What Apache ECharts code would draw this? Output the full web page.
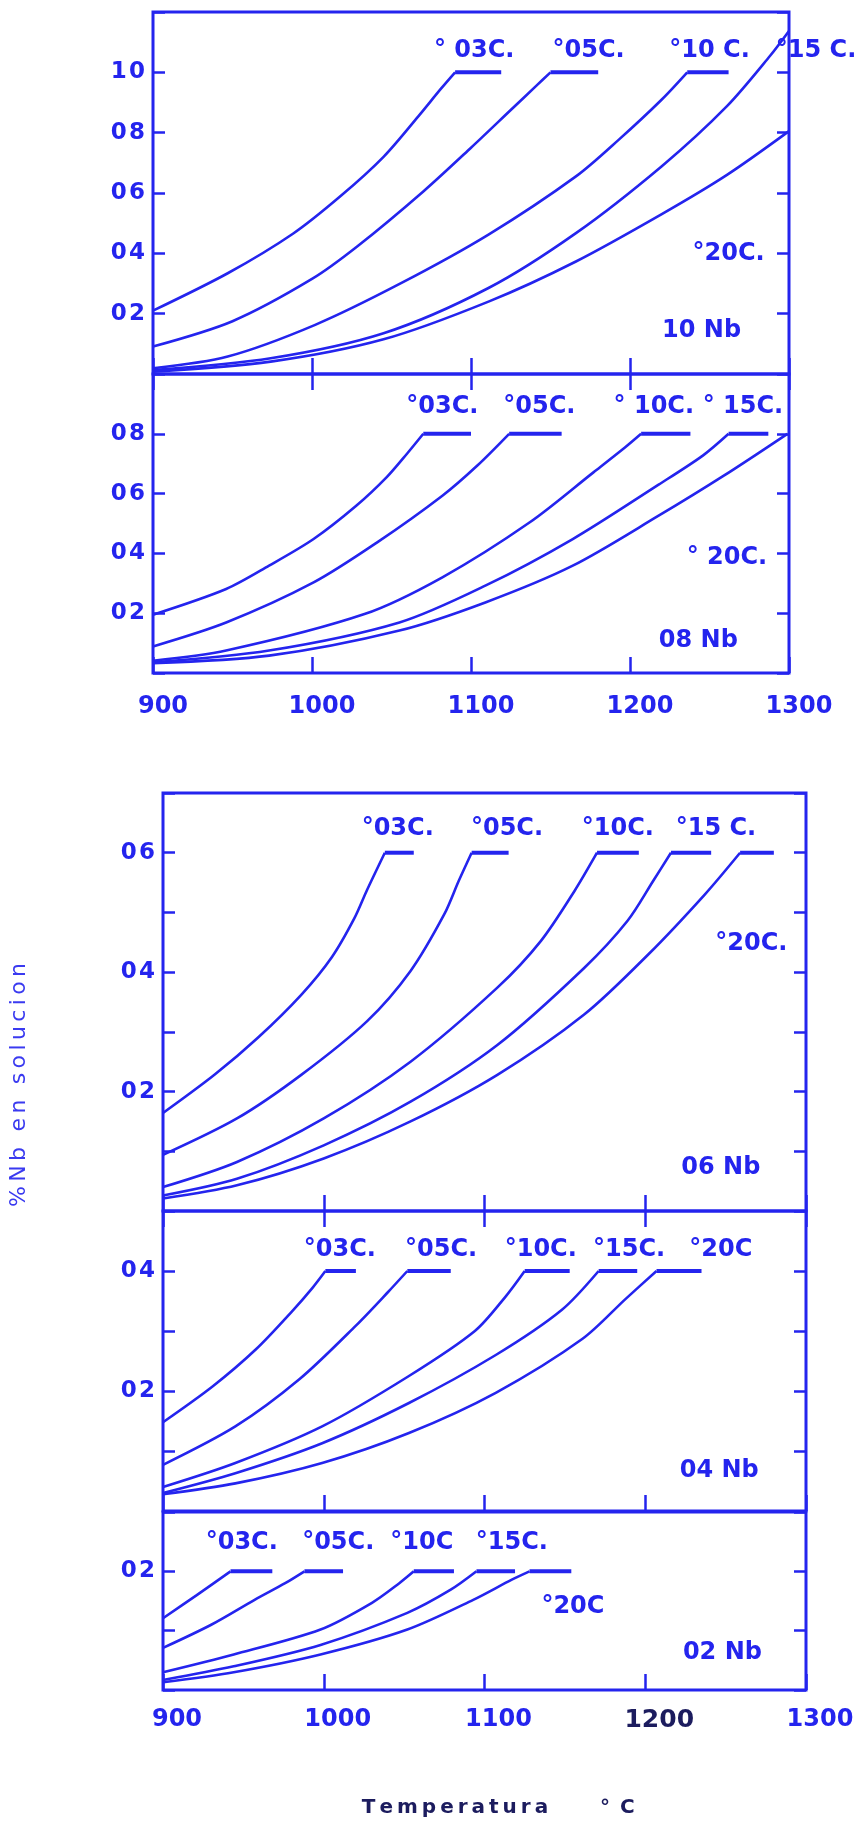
<!DOCTYPE html>
<html>
<head>
<meta charset="utf-8">
<script src="https://cdn.jsdelivr.net/npm/echarts@6/dist/echarts.min.js"></script>
<style>
html, body { margin: 0; padding: 0; background: #fff; }
#chart { width: 860px; height: 1824px; }
</style>
</head>
<body>
<div id="chart"></div>
<script>
// one curve per carbon content, one panel per Nb content
var carbonNames = ['03C', '05C', '10C', '15C', '20C'];
var nbNames = ['10 Nb', '08 Nb', '06 Nb', '04 Nb', '02 Nb'];
var nbLevels = [0.10, 0.08, 0.06, 0.04, 0.02];
var yMax = [0.12, 0.10, 0.07, 0.05, 0.03];
var yStep = [0.02, 0.02, 0.01, 0.01, 0.01];
var yShown = [[2, 4, 6, 8, 10], [2, 4, 6, 8], [2, 4, 6], [2, 4], [2]];
var tempTicks = [900, 1000, 1100, 1200, 1300];

// [temperatura C, % Nb en solucion]
var nb10 = [
  [[900, 0.021], [947, 0.0334], [988, 0.0465], [1018, 0.059], [1045, 0.0720], [1067, 0.0855], [1081, 0.0945], [1090, 0.100]],
  [[900, 0.0091], [950, 0.0175], [1000, 0.0315], [1029, 0.0425], [1070, 0.0605], [1100, 0.075], [1125, 0.0875], [1141, 0.0955], [1150, 0.100]],
  [[900, 0.0019], [947, 0.0058], [1002, 0.0163], [1056, 0.0301], [1111, 0.0462], [1166, 0.0655], [1193, 0.0777], [1220, 0.091], [1236, 0.100]],
  [[900, 0.0013], [974, 0.0052], [1045, 0.0135], [1111, 0.0285], [1166, 0.0467], [1220, 0.0689], [1261, 0.0888], [1288, 0.1054], [1300, 0.1137]],
  [[900, 0.0008], [974, 0.0041], [1045, 0.0115], [1111, 0.024], [1166, 0.0373], [1220, 0.053], [1261, 0.066], [1300, 0.0805]]
];
var nb10Flat = [[1090, 1119], [1150, 1180], [1236, 1262], null, null];

var nb08 = [
  [[900, 0.0195], [946, 0.0281], [973, 0.0359], [1001, 0.0448], [1028, 0.056], [1047, 0.0655], [1060, 0.0735], [1070, 0.080]],
  [[900, 0.0089], [946, 0.0169], [1001, 0.0303], [1041, 0.0437], [1082, 0.0593], [1104, 0.0694], [1124, 0.080]],
  [[900, 0.0041], [946, 0.0075], [1033, 0.0197], [1082, 0.032], [1137, 0.0504], [1177, 0.0671], [1197, 0.0755], [1207, 0.080]],
  [[900, 0.0036], [973, 0.0075], [1055, 0.0169], [1109, 0.0292], [1164, 0.0448], [1218, 0.063], [1246, 0.0728], [1262, 0.080]],
  [[900, 0.0033], [973, 0.0058], [1055, 0.0142], [1109, 0.0236], [1164, 0.0359], [1218, 0.0526], [1259, 0.066], [1299, 0.080]]
];
var nb08Flat = [[1070, 1100], [1124, 1157], [1207, 1238], [1262, 1287], null];

var nb06 = [
  [[900, 0.0164], [932, 0.0228], [959, 0.029], [986, 0.0362], [1005, 0.0425], [1019, 0.049], [1027, 0.0538], [1038, 0.060]],
  [[900, 0.0094], [946, 0.0155], [986, 0.0228], [1027, 0.0318], [1054, 0.0402], [1075, 0.0497], [1084, 0.0553], [1092, 0.060]],
  [[900, 0.004], [946, 0.0082], [1000, 0.0155], [1054, 0.025], [1108, 0.0374], [1135, 0.0452], [1156, 0.0536], [1170, 0.060]],
  [[900, 0.0026], [946, 0.0054], [1000, 0.011], [1054, 0.0183], [1108, 0.0278], [1162, 0.0407], [1189, 0.0486], [1205, 0.0553], [1216, 0.060]],
  [[900, 0.0021], [946, 0.0043], [1000, 0.0088], [1054, 0.015], [1108, 0.0228], [1162, 0.0329], [1202, 0.043], [1237, 0.053], [1259, 0.060]]
];
var nb06Flat = [[1038, 1056], [1092, 1115], [1170, 1196], [1216, 1241], [1259, 1280]];

var nb04 = [
  [[900, 0.0148], [931, 0.0208], [958, 0.027], [980, 0.0332], [993, 0.0372], [1001, 0.040]],
  [[900, 0.0077], [945, 0.0141], [985, 0.022], [1020, 0.0309], [1040, 0.0365], [1052, 0.040]],
  [[900, 0.004], [945, 0.008], [999, 0.0141], [1053, 0.0225], [1094, 0.030], [1113, 0.0357], [1125, 0.040]],
  [[900, 0.003], [945, 0.0063], [999, 0.0113], [1053, 0.018], [1107, 0.026], [1148, 0.0335], [1171, 0.040]],
  [[900, 0.0028], [945, 0.0046], [999, 0.008], [1053, 0.013], [1107, 0.0197], [1161, 0.0287], [1188, 0.0354], [1207, 0.040]]
];
var nb04Flat = [[1001, 1020], [1052, 1079], [1125, 1153], [1171, 1195], [1207, 1235]];

var nb02 = [
  [[900, 0.0121], [921, 0.0160], [942, 0.020]],
  [[900, 0.0071], [930, 0.011], [957, 0.0152], [976, 0.018], [988, 0.020]],
  [[900, 0.003], [944, 0.006], [998, 0.0102], [1030, 0.0147], [1047, 0.018], [1056, 0.020]],
  [[900, 0.0017], [944, 0.004], [998, 0.0076], [1052, 0.013], [1079, 0.0169], [1095, 0.020]],
  [[900, 0.0013], [944, 0.003], [998, 0.006], [1052, 0.0102], [1093, 0.0152], [1117, 0.0186], [1128, 0.020]]
];
var nb02Flat = [[942, 968], [988, 1012], [1056, 1081], [1095, 1119], [1128, 1154]];

// curve captions as printed, and where they sit (data coords)
var captions10 = ['° 03C.', '°05C.', '°10 C.', '°15 C.', '°20C.'];
var captions08 = ['°03C.', '°05C.', '° 10C.', '° 15C.', '° 20C.'];
var captions06 = ['°03C.', '°05C.', '°10C.', '°15 C.', '°20C.'];
var captions04 = ['°03C.', '°05C.', '°10C.', '°15C.', '°20C'];
var captions02 = ['°03C.', '°05C.', '°10C', '°15C.', '°20C'];
var spots10 = [[1102, 0.107], [1174, 0.107], [1250, 0.107], [1317, 0.107], [1262, 0.0398], [1245, 0.0144]];
var spots08 = [[1082, 0.0889], [1143, 0.0889], [1215, 0.0889], [1271, 0.0889], [1261, 0.0387], [1243, 0.0108]];
var spots06 = [[1046, 0.064], [1114, 0.064], [1183, 0.064], [1244, 0.064], [1266, 0.0447], [1247, 0.0073]];
var spots04 = [[1010, 0.0435], [1073, 0.0435], [1135, 0.0435], [1190, 0.0435], [1247, 0.0435], [1246, 0.0067]];
var spots02 = [[949, 0.0248], [1009, 0.0248], [1061, 0.0248], [1117, 0.0248], [1155, 0.0141], [1248, 0.0062]];

var BLUE = '#2424ee';
var NAVY = '#1c1c5e';
var FONT = 'DejaVu Sans';

var curves = [nb10, nb08, nb06, nb04, nb02];
var flats = [nb10Flat, nb08Flat, nb06Flat, nb04Flat, nb02Flat];
var captions = [captions10, captions08, captions06, captions04, captions02];
var spots = [spots10, spots08, spots06, spots04, spots02];

var grids = [
  { left: 153, top: 12, width: 636, height: 362 },
  { left: 153, top: 374, width: 636, height: 299 },
  { left: 163, top: 793, width: 643, height: 418 },
  { left: 163, top: 1211, width: 643, height: 300 },
  { left: 163, top: 1512, width: 643, height: 178 }
];
grids.forEach(function (g) {
  g.show = true;
  g.borderColor = BLUE;
  g.borderWidth = 3;
  g.backgroundColor = 'transparent';
  g.outerBoundsMode = 'none';
});

var xAxes = [];
var yAxes = [];
var series = [];

grids.forEach(function (g, i) {
  var bottomLabels = (i === 1 || i === 4);
  var xi = xAxes.length;
  xAxes.push({
    gridIndex: i, type: 'value', position: 'bottom',
    min: tempTicks[0], max: tempTicks[tempTicks.length - 1], interval: 100,
    axisLine: { show: false }, splitLine: { show: false },
    axisTick: { show: true, inside: true, length: 16, lineStyle: { color: BLUE, width: 2.5 } },
    axisLabel: {
      show: bottomLabels,
      margin: i === 1 ? 22 : 18,
      padding: [0, 0, 0, i === 1 ? 20 : 28],
      color: BLUE, fontFamily: FONT, fontWeight: 'bold', fontSize: 24,
      formatter: function (v) {
        if (i === 4 && v === 1200) return '{dark|1200}';
        return String(v);
      },
      rich: { dark: { color: NAVY, fontFamily: FONT, fontWeight: 'bold', fontSize: 25 } }
    }
  });
  if (i === 0 || i === 2) {
    xAxes.push({
      gridIndex: i, type: 'value', position: 'top',
      min: 900, max: 1300, interval: 100,
      axisLine: { show: false }, splitLine: { show: false },
      axisTick: { show: true, inside: true, length: 16, lineStyle: { color: BLUE, width: 2.5 } },
      axisLabel: { show: false }
    });
  }
  var yi = yAxes.length;
  yAxes.push({
    gridIndex: i, type: 'value', position: 'left',
    min: 0, max: yMax[i], interval: yStep[i],
    axisLine: { show: false }, splitLine: { show: false },
    axisTick: { show: true, inside: true, length: 12, lineStyle: { color: BLUE, width: 2.5 } },
    axisLabel: {
      margin: 8, color: BLUE, fontFamily: FONT, fontWeight: 'bold', fontSize: 23,
      formatter: function (v) {
        var k = Math.round(v * 100);
        if (yShown[i].indexOf(k) < 0) return '';
        return ('0' + k).slice(-2).split('').join('\u200a');
      }
    }
  });
  yAxes.push({
    gridIndex: i, type: 'value', position: 'right',
    min: 0, max: yMax[i], interval: yStep[i],
    axisLine: { show: false }, splitLine: { show: false },
    axisTick: { show: true, inside: true, length: 12, lineStyle: { color: BLUE, width: 2.5 } },
    axisLabel: { show: false }
  });

  curves[i].forEach(function (pts, c) {
    series.push({
      name: nbNames[i] + ' ' + carbonNames[c],
      type: 'line', xAxisIndex: xi, yAxisIndex: yi,
      data: pts, smooth: 0.3,
      showSymbol: false, symbol: 'none', clip: false,
      lineStyle: { color: BLUE, width: 2.6 }
    });
    var f = flats[i][c];
    if (f) {
      series.push({
        type: 'line', xAxisIndex: xi, yAxisIndex: yi,
        data: [[f[0], nbLevels[i]], [f[1], nbLevels[i]]],
        showSymbol: false, symbol: 'none',
        lineStyle: { color: BLUE, width: 4 }
      });
    }
  });

  var names = captions[i].concat([nbNames[i]]);
  series.push({
    type: 'scatter', xAxisIndex: xi, yAxisIndex: yi,
    symbolSize: 0, clip: false, silent: true, z: 5,
    itemStyle: { opacity: 1 },
    data: spots[i].map(function (p, k) { return { name: names[k], value: p }; }),
    label: {
      show: true, position: 'inside', formatter: '{b}', opacity: 1,
      color: BLUE, fontFamily: FONT, fontWeight: 'bold', fontSize: 24
    }
  });
});

var chart = echarts.init(document.getElementById('chart'), null, { renderer: 'canvas' });
chart.setOption({
  backgroundColor: '#ffffff',
  animation: false,
  grid: grids,
  xAxis: xAxes,
  yAxis: yAxes,
  series: series,
  graphic: [
    {
      type: 'text', x: 19, y: 1085, rotation: Math.PI / 2,
      style: {
        text: '%\u2009N\u2009b\u2002\u2009e\u2009n\u2002\u2009s\u2009o\u2009l\u2009u\u2009c\u2009i\u2009o\u2009n',
        fill: '#3a3af0', font: '22px "DejaVu Sans"',
        align: 'center', verticalAlign: 'middle'
      }
    },
    {
      type: 'text', x: 455, y: 1808,
      style: {
        text: 'Temperatura'.split('').join('\u2009'), fill: NAVY, font: 'bold 20px "DejaVu Sans"',
        align: 'center', verticalAlign: 'middle'
      }
    },
    {
      type: 'text', x: 600, y: 1808,
      style: {
        text: '°\u2002C', fill: NAVY, font: 'bold 20px "DejaVu Sans"',
        align: 'left', verticalAlign: 'middle'
      }
    }
  ]
});
</script>
</body>
</html>
